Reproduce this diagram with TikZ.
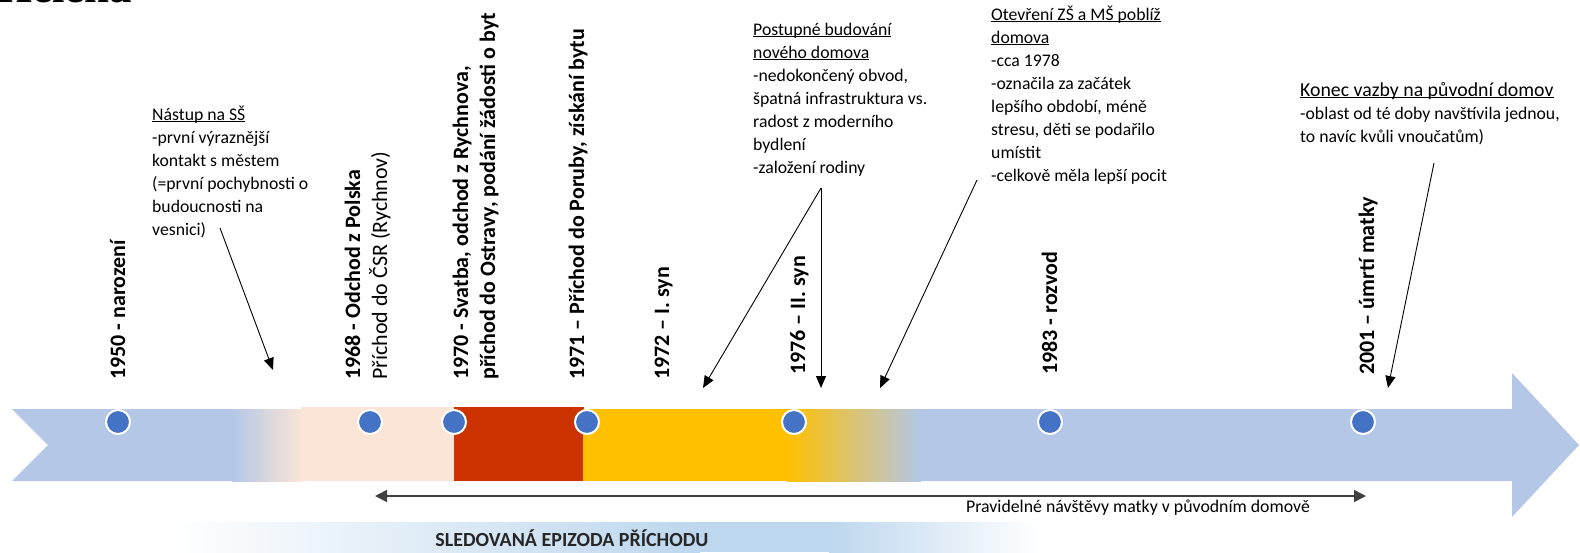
\documentclass[tikz,border=0pt]{standalone}
\usepackage{fontspec}
\setmainfont{Carlito}
\newfontfamily\headfont{Liberation Serif}
\usetikzlibrary{arrows.meta}
\definecolor{bandblue}{RGB}{180,199,231}
\definecolor{bandpeach}{RGB}{251,229,214}
\definecolor{bandred}{RGB}{204,51,0}
\definecolor{bandyellow}{RGB}{255,192,0}
\definecolor{dotblue}{RGB}{68,114,196}
\definecolor{barblue}{RGB}{189,215,238}
\newcommand{\headline}[1]{\underline{\smash{#1}}}

\begin{document}
\begin{tikzpicture}[x=1pt,y=-1pt,
  eventdot/.style={circle,fill=dotblue,draw=white,line width=2pt,minimum size=24pt,inner sep=0pt},
  yearlbl/.style={rotate=90,anchor=base west,align=left,inner sep=0pt,font=\fontsize{22}{27}\selectfont\bfseries},
  memo/.style={anchor=base west,align=left,inner sep=0pt,font=\fontsize{17.7}{23}\selectfont},
  pointer/.style={line width=0.9pt,-{Triangle[length=12pt,width=10pt]}}]
\useasboundingbox (0,0) rectangle (1580,552);

\node[font=\headfont\bfseries\fontsize{45}{50}\selectfont,anchor=base west,inner sep=0pt] (title) at (-3,2.5) {Helena};

\fill[bandblue] (12,409) -- (1512,409) -- (1512,373) -- (1579,445) -- (1512,517) -- (1512,481) -- (12,481) -- (48,445) -- cycle;
\shade[left color=bandblue,right color=bandpeach] (232,409) rectangle (302,481);
\fill[bandpeach] (301,407) rectangle (455,481);
\fill[bandred] (454,407) rectangle (584,481);
\fill[bandyellow] (583,409) rectangle (788,481);
\shade[left color=bandyellow,right color=bandblue] (787,409) rectangle (921,481);

\shade[left color=white,right color=barblue] (170,522) rectangle (700,552);
\fill[barblue] (699,522) rectangle (830,552);
\shade[left color=barblue,right color=white] (829,522) rectangle (1040,552);
\node[font=\fontsize{20}{22}\selectfont\bfseries,text=black!85] (episode) at (572,538) {SLEDOVANÁ EPIZODA PŘÍCHODU};

\node[eventdot] (d1950) at (118,422) {};
\node[eventdot] (d1968) at (370,422) {};
\node[eventdot] (d1970) at (454,422) {};
\node[eventdot] (d1971) at (587,422) {};
\node[eventdot] (d1976) at (794,422) {};
\node[eventdot] (d1983) at (1050,422) {};
\node[eventdot] (d2001) at (1363,422) {};

\node[yearlbl] (l1950) at (125,380) {1950 - narození};
\node[yearlbl] (l1968) at (387,380) {1968 - Odchod z Polska\\\mdseries Příchod do ČSR (Rychnov)};
\node[yearlbl] (l1970) at (495,380) {1970 - Svatba, odchod z Rychnova,\\příchod do Ostravy, podání žádosti o byt};
\node[yearlbl] (l1971) at (584,380) {1971 – Příchod do Poruby, získání bytu};
\node[yearlbl] (l1972) at (669,380) {1972 – I. syn};
\node[yearlbl] (l1976) at (805,375) {1976 – II. syn};
\node[yearlbl] (l1983) at (1057,375) {1983 - rozvod};
\node[yearlbl] (l2001) at (1374,375) {2001 – úmrtí matky};

\node[memo] (school) at (152,235) {\headline{Nástup na SŠ}\\-první výraznější\\kontakt s městem\\(=první pochybnosti o\\budoucnosti na\\vesnici)};
\node[memo] (newhome) at (753,173) {\headline{Postupné budování}\\\headline{nového domova}\\-nedokončený obvod,\\špatná infrastruktura vs.\\radost z moderního\\bydlení\\-založení rodiny};
\node[memo] (schools) at (991,181) {\headline{Otevření ZŠ a MŠ poblíž}\\\headline{domova}\\-cca 1978\\-označila za začátek\\lepšího období, méně\\stresu, děti se podařilo\\umístit\\-celkově měla lepší pocit};
\node[memo] (bond) at (1300,142) {{\fontsize{19.8}{25}\selectfont\headline{Konec vazby na původní domov}}\\-oblast od té doby navštívila jednou,\\to navíc kvůli vnoučatům)};

\coordinate (schoolFrom) at (220,228);
\coordinate (schoolTo) at (273,370);
\coordinate (homeFrom) at (821,188);
\coordinate (homeTo1) at (703,388);
\coordinate (homeTo2) at (821,388);
\coordinate (schoolsFrom) at (977,180);
\coordinate (schoolsTo) at (880,388);
\coordinate (bondFrom) at (1434,163);
\coordinate (bondTo) at (1388,388);
\draw[pointer] (schoolFrom) -- (schoolTo);
\draw[pointer] (homeFrom) -- (homeTo1);
\draw[pointer] (homeFrom) -- (homeTo2);
\draw[pointer] (schoolsFrom) -- (schoolsTo);
\draw[pointer] (bondFrom) -- (bondTo);

\coordinate (visitL) at (375,496);
\coordinate (visitR) at (1366,496);
\draw[line width=1.6pt,black!75,{Triangle[length=12pt,width=12pt]}-{Triangle[length=12pt,width=12pt]}] (visitL) -- (visitR);
\node[font=\fontsize{17.8}{20}\selectfont,anchor=base] (visits) at (1138,512) {Pravidelné návštěvy matky v původním domově};
\end{tikzpicture}
\end{document}
